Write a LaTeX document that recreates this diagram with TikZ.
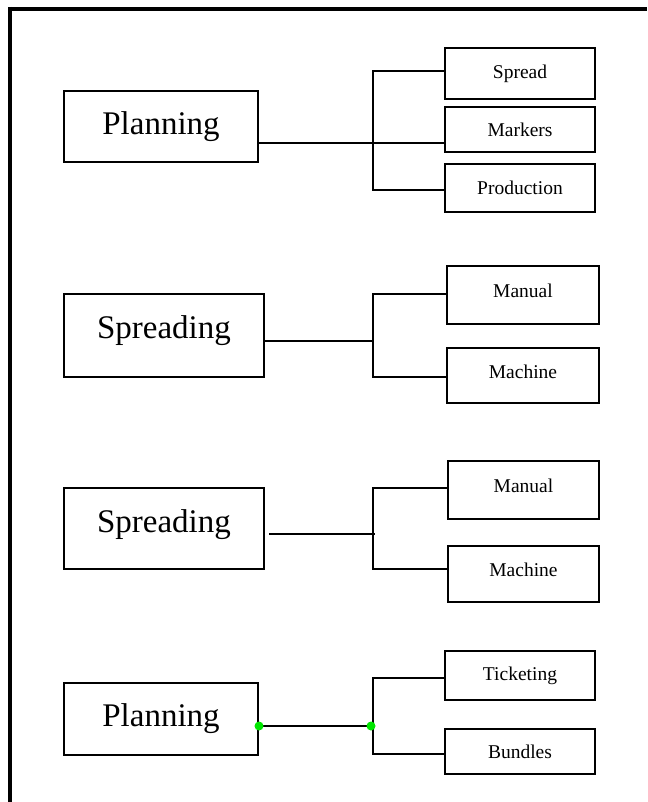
\documentclass[tikz,border=0pt]{standalone}
\usepackage{fontspec}
\setmainfont{Liberation Serif}
\definecolor{dotgreen}{RGB}{0,230,0}
\begin{document}
\begin{tikzpicture}[x=1pt,y=-1pt,
  box/.style={draw, line width=2pt, inner sep=0pt, font=\fontsize{19.5}{22}\selectfont},
  bigbox/.style={box, font=\fontsize{33}{38}\selectfont},
  conn/.style={line width=2pt},
  frameline/.style={line width=4pt},
  hi/.style={text depth=8pt},
  dot/.style={circle, fill=dotgreen, inner sep=0pt, minimum size=9pt}]
\useasboundingbox (0,0) rectangle (647,802);
\draw[frameline] (8,9) -- (647,9);
\draw[frameline] (10,7) -- (10,802);

% Block 1
\node[bigbox, minimum width=194pt, minimum height=71pt] (p1) at (161,126.5) {Planning};
\node[box, minimum width=150pt, minimum height=51pt] (spread) at (520,73.5) {Spread};
\node[box, minimum width=150pt, minimum height=45pt] (markers) at (520,129.5) {Markers};
\node[box, minimum width=150pt, minimum height=48pt] (prod) at (520,188) {Production};
\coordinate (t1) at (373,71);
\coordinate (b1) at (373,190);
\coordinate (m1) at (373,143);
\draw[conn] (spread.west |- t1) -- (t1) -- (b1) -- (prod.west |- b1);
\draw[conn] (p1.east |- m1) -- (markers.west |- m1);

% Block 2
\node[bigbox, minimum width=200pt, minimum height=83pt, text depth=17pt] (s2) at (164,335.5) {Spreading};
\node[box, hi, minimum width=152pt, minimum height=58pt] (man2) at (523,295) {Manual};
\node[box, hi, minimum width=152pt, minimum height=55pt] (mach2) at (523,375.5) {Machine};
\coordinate (t2) at (373,294);
\coordinate (b2) at (373,377);
\coordinate (m2) at (373,341);
\draw[conn] (man2.west |- t2) -- (t2) -- (b2) -- (mach2.west |- b2);
\draw[conn] (s2.east |- m2) -- (m2);

% Block 3
\node[bigbox, minimum width=200pt, minimum height=81pt, text depth=14pt] (s3) at (164,528.5) {Spreading};
\node[box, hi, minimum width=151pt, minimum height=58pt] (man3) at (523.5,490) {Manual};
\node[box, hi, minimum width=151pt, minimum height=56pt] (mach3) at (523.5,574) {Machine};
\coordinate (t3) at (373,488);
\coordinate (b3) at (373,569);
\coordinate (m3) at (375,534);
\draw[conn] (man3.west |- t3) -- (t3) -- (b3) -- (mach3.west |- b3);
\draw[conn] ([xshift=4pt]s3.east |- m3) -- (m3);

% Block 4
\node[bigbox, minimum width=194pt, minimum height=72pt] (p4) at (161,719) {Planning};
\node[box, minimum width=150pt, minimum height=49pt] (tick) at (520,675.5) {Ticketing};
\node[box, minimum width=150pt, minimum height=45pt] (bund) at (520,751.5) {Bundles};
\coordinate (t4) at (373,678);
\coordinate (b4) at (373,754);
\coordinate (m4) at (371,726);
\draw[conn] (tick.west |- t4) -- (t4) -- (b4) -- (bund.west |- b4);
\draw[conn] (p4.east |- m4) -- (m4);
\node[dot] (g1) at (p4.east |- m4) {};
\node[dot] (g2) at (m4) {};
\end{tikzpicture}
\end{document}
